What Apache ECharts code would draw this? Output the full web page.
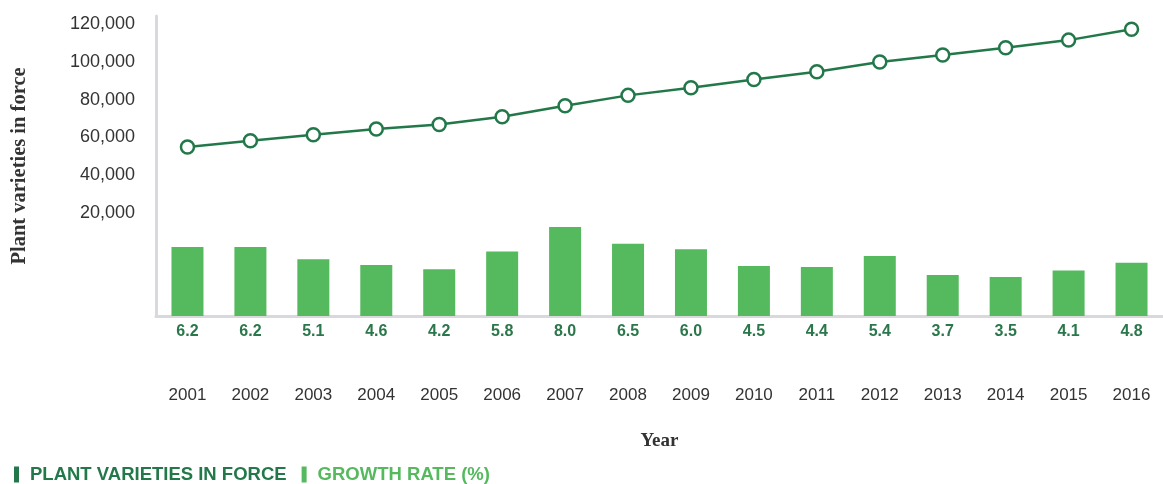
<!DOCTYPE html>
<html>
<head>
<meta charset="utf-8">
<script src="https://cdn.jsdelivr.net/npm/echarts@6/dist/echarts.min.js"></script>
<style>
html,body{margin:0;padding:0;background:#fff;}
#chart{width:1163px;height:484px;}
</style>
</head>
<body>
<div id="chart"></div>
<script>
const years = ['2001','2002','2003','2004','2005','2006','2007','2008','2009','2010','2011','2012','2013','2014','2015','2016'];
const varietiesInForce = [55000, 58300, 61500, 64500, 66900, 70900, 76700, 82200, 86200, 90600, 94600, 99800, 103500, 107300, 111300, 117000];
const growthRate = [6.2, 6.2, 5.1, 4.6, 4.2, 5.8, 8.0, 6.5, 6.0, 4.5, 4.4, 5.4, 3.7, 3.5, 4.1, 4.8];
const yTickLabels = [20000, 40000, 60000, 80000, 100000, 120000];

const DARK = '#23784a';
const LIGHT = '#55b95e';
const SANS = '"Liberation Sans", Arial, Helvetica, sans-serif';
const SERIF = '"Liberation Serif", "Times New Roman", serif';

const chart = echarts.init(document.getElementById('chart'), null, {renderer: 'canvas'});
chart.setOption({
  animation: false,
  backgroundColor: '#ffffff',
  grid: {left: 156, top: 16, width: 1012, height: 300, containLabel: false},
  legend: {
    left: 14, top: 465, padding: 0,
    icon: 'rect', itemWidth: 5, itemHeight: 16, itemGap: 15,
    textStyle: {fontFamily: SANS, fontSize: 18.5, fontWeight: 'bold', lineHeight: 18, padding: [0, 0, 0, 6]},
    data: [
      {name: 'PLANT VARIETIES IN FORCE', itemStyle: {color: DARK, borderWidth: 0}, textStyle: {color: DARK}},
      {name: 'GROWTH RATE (%)', itemStyle: {color: LIGHT, borderWidth: 0}, textStyle: {color: LIGHT}}
    ]
  },
  xAxis: {
    type: 'category',
    data: years,
    boundaryGap: true,
    name: 'Year',
    nameLocation: 'middle',
    nameGap: 116,
    nameTextStyle: {fontFamily: SERIF, fontSize: 19, fontWeight: 'bold', color: '#333'},
    axisLine: {show: true, onZero: false, lineStyle: {color: '#d9d9dd', width: 3}},
    axisTick: {show: false},
    axisLabel: {margin: 71, fontFamily: SANS, fontSize: 17, color: '#333'},
    splitLine: {show: false}
  },
  yAxis: [
    {
      type: 'value',
      min: -34000, max: 124000,
      name: 'Plant varieties in force',
      nameLocation: 'middle',
      nameGap: 126,
      nameRotate: 90,
      nameTextStyle: {fontFamily: SERIF, fontSize: 20.5, fontWeight: 'bold', color: '#333'},
      axisLine: {show: true, onZero: false, lineStyle: {color: '#d9d9dd', width: 3}},
      axisTick: {show: false},
      splitLine: {show: false},
      axisLabel: {
        customValues: yTickLabels,
        margin: 21,
        fontFamily: SANS, fontSize: 18, color: '#333',
        formatter: v => v.toLocaleString('en-US')
      }
    },
    {
      type: 'value',
      min: 0, max: 27,
      show: false,
      splitLine: {show: false}
    }
  ],
  series: [
    {
      name: 'GROWTH RATE (%)',
      type: 'bar',
      yAxisIndex: 1,
      data: growthRate,
      barWidth: 32,
      itemStyle: {color: LIGHT},
      label: {
        show: true, position: 'bottom', distance: 8,
        fontFamily: SANS, fontSize: 16, fontWeight: 'bold', color: '#2b774b',
        formatter: p => p.value.toFixed(1)
      },
      z: 2
    },
    {
      name: 'PLANT VARIETIES IN FORCE',
      type: 'line',
      yAxisIndex: 0,
      data: varietiesInForce,
      symbol: 'circle',
      symbolSize: 13,
      lineStyle: {color: DARK, width: 2.5},
      itemStyle: {color: '#ffffff', borderColor: DARK, borderWidth: 2.5},
      z: 3
    }
  ]
});
</script>
</body>
</html>
